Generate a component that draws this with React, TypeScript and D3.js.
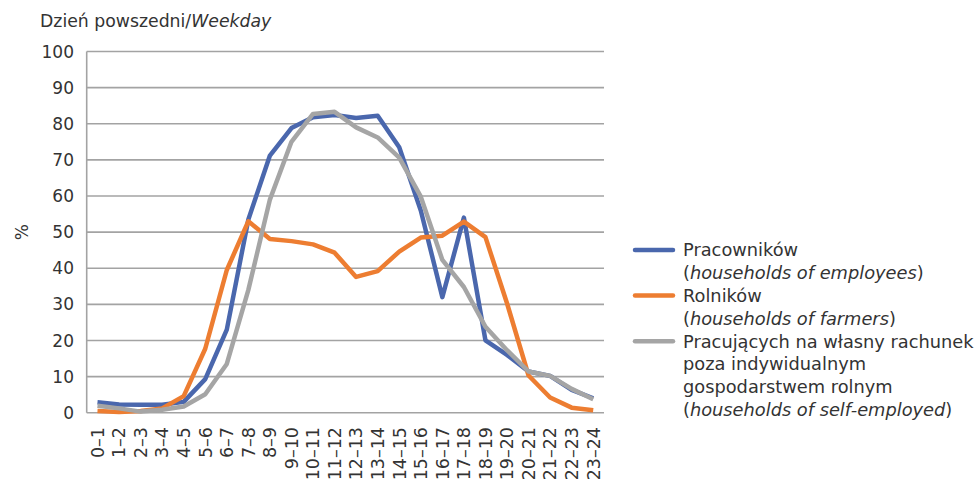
import React from "react";
import * as d3 from "d3";

const hours = [
  "0–1", "1–2", "2–3", "3–4", "4–5", "5–6", "6–7", "7–8", "8–9", "9–10", "10–11", "11–12",
  "12–13", "13–14", "14–15", "15–16", "16–17", "17–18", "18–19", "19–20", "20–21", "21–22", "22–23", "23–24",
];

const employees = [2.9, 2.3, 2.2, 2.2, 3.0, 9.3, 23, 53.5, 71.2, 78.8, 81.8, 82.4, 81.6, 82.2, 73.5, 56, 32, 54, 20, 16, 11.4, 10.2, 6.3, 4.0];
const farmers = [0.5, 0.2, 0.5, 1.2, 4.6, 17.7, 39.5, 53, 48.1, 47.5, 46.6, 44.3, 37.6, 39.2, 44.6, 48.5, 49, 52.9, 48.6, 30.3, 10.3, 4.2, 1.4, 0.7];
const selfEmployed = [1.9, 1.2, 0.3, 0.8, 1.7, 5.1, 13.5, 34, 59, 75, 82.7, 83.3, 79, 76.2, 70.6, 59.8, 42.3, 34.8, 23.8, 17.3, 11.4, 10.2, 6.6, 3.7];

const yTicks = [0, 10, 20, 30, 40, 50, 60, 70, 80, 90, 100];

const seriesColors = ["#4a67ad", "#ed7d31", "#a5a5a5"];

const font = "'DejaVu Sans', sans-serif";
const textColor = "#333";

export default function App() {
  const width = 978;
  const height = 482;

  const x = d3.scaleBand<string>().domain(hours).range([86.7, 604]);
  const y = d3.scaleLinear().domain([0, 100]).range([412.7, 51.5]);

  const line = d3
    .line<number>()
    .x((_, i) => (x(hours[i]) as number) + x.bandwidth() / 2)
    .y((d) => y(d));

  const series = [employees, farmers, selfEmployed];

  // legend rows: [text, italic?] pieces per text line
  const legendRows: { swatch?: number; parts: [string, boolean][] }[] = [
    { swatch: 0, parts: [["Pracowników", false]] },
    { parts: [["(", false], ["households of employees", true], [")", false]] },
    { swatch: 1, parts: [["Rolników", false]] },
    { parts: [["(", false], ["households of farmers", true], [")", false]] },
    { swatch: 2, parts: [["Pracujących na własny rachunek", false]] },
    { parts: [["poza indywidualnym", false]] },
    { parts: [["gospodarstwem rolnym", false]] },
    { parts: [["(", false], ["households of self-employed", true], [")", false]] },
  ];

  return (
    <svg
      width={width}
      height={height}
      style={{ position: "absolute", left: 0, top: 0, background: "#fff" }}
      fontFamily={font}
    >
      <text x={40} y={27} fontSize={17.3} fill={textColor}>
        Dzień powszedni/<tspan fontStyle="italic">Weekday</tspan>
      </text>

      {yTicks.map((t) => (
        <g key={t}>
          <line x1={x.range()[0]} x2={x.range()[1]} y1={y(t)} y2={y(t)} stroke="#a3a3a3" strokeWidth={1.6} />
          <text x={74} y={y(t)} dy="0.36em" textAnchor="end" fontSize={17} fill={textColor}>
            {t}
          </text>
        </g>
      ))}
      <line x1={x.range()[0]} x2={x.range()[0]} y1={y(100)} y2={y(0)} stroke="#a3a3a3" strokeWidth={1.6} />

      <text
        transform={`translate(22, ${y(50)}) rotate(-90)`}
        textAnchor="middle"
        dy="0.36em"
        fontSize={17}
        fill={textColor}
      >
        %
      </text>

      {hours.map((h) => (
        <text
          key={h}
          transform={`translate(${(x(h) as number) + x.bandwidth() / 2}, 427) rotate(-90)`}
          textAnchor="end"
          dy="0.36em"
          fontSize={17.5}
          fill={textColor}
        >
          {h}
        </text>
      ))}

      {series.map((s, i) => (
        <path
          key={i}
          d={line(s) as string}
          fill="none"
          stroke={seriesColors[i]}
          strokeWidth={4.5}
          strokeLinejoin="round"
        />
      ))}

      {legendRows.map((row, i) => {
        const cy = 250 + i * 22.8;
        return (
          <g key={i}>
            {row.swatch !== undefined && (
              <line
                x1={635}
                x2={673}
                y1={cy}
                y2={cy}
                stroke={seriesColors[row.swatch]}
                strokeWidth={4.5}
                strokeLinecap="round"
              />
            )}
            <text x={683} y={cy} dy="0.36em" fontSize={17.8} fill={textColor}>
              {row.parts.map(([t, it], j) => (
                <tspan key={j} fontStyle={it ? "italic" : "normal"}>
                  {t}
                </tspan>
              ))}
            </text>
          </g>
        );
      })}
    </svg>
  );
}
